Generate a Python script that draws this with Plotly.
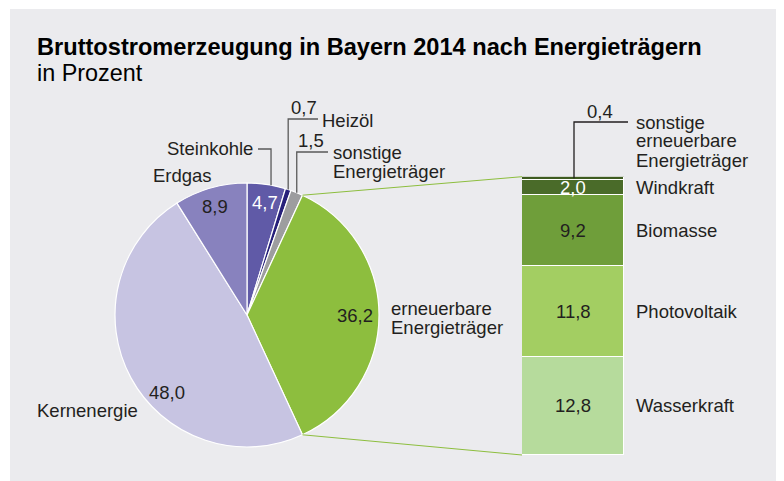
import math
import plotly.graph_objects as go

# ---------------- data ----------------
pie_labels = ["Steinkohle", "Heizöl", "sonstige Energieträger", "erneuerbare Energieträger", "Kernenergie", "Erdgas"]
pie_values = [4.7, 0.7, 1.5, 36.2, 48.0, 8.9]
bar_labels = ["Wasserkraft", "Photovoltaik", "Biomasse", "Windkraft", "sonstige erneuerbare Energieträger"]
bar_values = [12.8, 11.8, 9.2, 2.0, 0.4]

title_text = "Bruttostromerzeugung in Bayern 2014 nach Energieträgern"
subtitle_text = "in Prozent"

# ---------------- styles ----------------
pie_colors = ["#605aa7", "#27207a", "#9d9d9f", "#8dbe3e", "#c7c4e2", "#8882be"]
bar_colors = ["#b6db9c", "#a3ce62", "#6f9e3a", "#4a6b29", "#3e5b20"]
bar_text_colors = ["#231f20", "#231f20", "#231f20", "#ffffff", "#231f20"]
BG = "#ebebee"
TXT = "#231f20"
FONT = "Liberation Sans, Arial, Helvetica, sans-serif"
FS = 18.5

W, H = 784, 481
OFF = 8                            # page margin offset of the figure in the window
CX, CY, R = 247, 315, 132          # pie centre / radius in window pixels
BX0, BX1 = 522, 624                # bar left/right in window pixels
BY_TOP, BY_BOT = 176.7, 455        # bar top/bottom in window pixels


def X(px):
    return (px - OFF) / W


def Y(py):
    return 1 - (py - OFF) / H


def fmt(v):
    return f"{v:.1f}".replace(".", ",")


def circle_pt(cum_pct):
    a = math.radians(cum_pct * 3.6)
    return CX + R * math.sin(a), CY - R * math.cos(a)


fig = go.Figure()

fig.add_trace(go.Pie(
    labels=pie_labels, values=pie_values, sort=False, direction="clockwise", rotation=0,
    marker=dict(colors=pie_colors, line=dict(color="white", width=1.2)),
    textinfo="none", hoverinfo="label+value", showlegend=False,
    domain=dict(x=[X(CX - R), X(CX + R)], y=[Y(CY + R), Y(CY - R)]),
))

for lab, val, col in zip(bar_labels, bar_values, bar_colors):
    fig.add_trace(go.Bar(
        x=[0], y=[val], name=lab, marker=dict(color=col, line=dict(color="white", width=1)),
        showlegend=False, hoverinfo="name+y", width=1,
    ))

shapes = []
annotations = []

# gray panel
shapes.append(dict(type="rect", xref="paper", yref="paper", x0=X(10), x1=1.05, y0=-0.05, y1=Y(9),
                   fillcolor=BG, line=dict(width=0), layer="below"))

# title
annotations.append(dict(text=f"<b>{title_text}</b>", x=X(35), y=Y(47), xref="paper", yref="paper",
                        xanchor="left", yanchor="middle", showarrow=False,
                        font=dict(family=FONT, size=23.6, color="#000000")))
annotations.append(dict(text=subtitle_text, x=X(35), y=Y(73), xref="paper", yref="paper",
                        xanchor="left", yanchor="middle", showarrow=False,
                        font=dict(family=FONT, size=23.4, color="#000000")))

# cumulative angles of pie
cum = [0]
for v in pie_values:
    cum.append(cum[-1] + v)

# connection lines pie -> bar (erneuerbare slice = index 3)
p_start = circle_pt(cum[3])
p_end = circle_pt(cum[4])
shapes.append(dict(type="line", xref="paper", yref="paper", x0=X(p_start[0]), y0=Y(p_start[1]),
                   x1=X(BX0), y1=Y(BY_TOP), line=dict(color="#8dbe3e", width=1)))
shapes.append(dict(type="line", xref="paper", yref="paper", x0=X(p_end[0]), y0=Y(p_end[1]),
                   x1=X(BX0), y1=Y(BY_BOT), line=dict(color="#8dbe3e", width=1)))


def ann(text, px, py, anchor="left", color=TXT, size=FS):
    annotations.append(dict(text=text, x=X(px), y=Y(py), xref="paper", yref="paper",
                            xanchor=anchor, yanchor="middle", showarrow=False,
                            font=dict(family=FONT, size=size, color=color)))


# inside pie values
ann(fmt(pie_values[0]), 265, 202, "center", "#ffffff")
ann(fmt(pie_values[5]), 215, 206, "center")
ann(fmt(pie_values[3]), 375, 315, "right")
ann(fmt(pie_values[4]), 167, 392, "center")

# outside pie labels
ann(pie_labels[5], 151, 175)
ann(pie_labels[4], 35, 410)
ann("erneuerbare", 389, 308)
ann("Energieträger", 389, 327)

# leader lines for small slices
LEAD = dict(color="#5a5a5a", width=1.3)
# Steinkohle
sx, sy = circle_pt(cum[0] + pie_values[0] * 0.62)
shapes.append(dict(type="path", xref="paper", yref="paper",
                   path=f"M {X(258)} {Y(149)} L {X(sx)} {Y(149)} L {X(sx)} {Y(sy)}", line=LEAD))
ann(pie_labels[0], 255, 149, "right")
# Heizöl
hx, hy = circle_pt(cum[1] + pie_values[1] / 2)
shapes.append(dict(type="path", xref="paper", yref="paper",
                   path=f"M {X(hx)} {Y(hy)} L {X(hx)} {Y(119)} L {X(318)} {Y(119)}", line=LEAD))
ann(fmt(pie_values[1]), 304, 107, "center")
ann(pie_labels[1], 320, 121)
# sonstige
ox, oy = circle_pt(cum[2] + pie_values[2] / 2)
shapes.append(dict(type="path", xref="paper", yref="paper",
                   path=f"M {X(ox)} {Y(oy)} L {X(ox)} {Y(152)} L {X(328)} {Y(152)}", line=LEAD))
ann(fmt(pie_values[2]), 311, 141, "center")
ann("sonstige", 331, 153)
ann("Energieträger", 331, 171)

# bar labels
bcum = [0]
for v in bar_values:
    bcum.append(bcum[-1] + v)
total = bcum[-1]
for i, (lab, val) in enumerate(zip(bar_labels, bar_values)):
    mid = bcum[i] + val / 2
    if i < 4:
        annotations.append(dict(text=fmt(val), x=0, y=mid, xref="x", yref="y", xanchor="center",
                                yanchor="middle", showarrow=False,
                                font=dict(family=FONT, size=FS, color=bar_text_colors[i])))
        annotations.append(dict(text=lab, x=X(634), y=mid, xref="paper", yref="y", xanchor="left",
                                yanchor="middle", showarrow=False,
                                font=dict(family=FONT, size=FS, color=TXT)))

# sonstige erneuerbare (top thin segment)
top_mid_py = BY_TOP + (BY_BOT - BY_TOP) * (bar_values[4] / 2) / total
lx = 574
shapes.append(dict(type="path", xref="paper", yref="paper",
                   path=f"M {X(lx)} {Y(top_mid_py)} L {X(lx)} {Y(122)} L {X(628)} {Y(122)}",
                   line=dict(color="#231f20", width=1.3)))
ann(fmt(bar_values[4]), 600, 111, "center")
ann("sonstige", 634, 122)
ann("erneuerbare", 634, 141)
ann("Energieträger", 634, 160)

fig.update_layout(
    width=W, height=H, margin=dict(l=0, r=0, t=0, b=0),
    paper_bgcolor="white", plot_bgcolor="rgba(0,0,0,0)",
    barmode="stack", bargap=0,
    xaxis=dict(domain=[X(BX0), X(BX1)], range=[-0.5, 0.5], visible=False, fixedrange=True),
    yaxis=dict(domain=[Y(BY_BOT), Y(BY_TOP)], range=[0, total], visible=False, fixedrange=True),
    shapes=shapes, annotations=annotations,
    font=dict(family=FONT, color=TXT),
)

fig.write_html("out.html")
